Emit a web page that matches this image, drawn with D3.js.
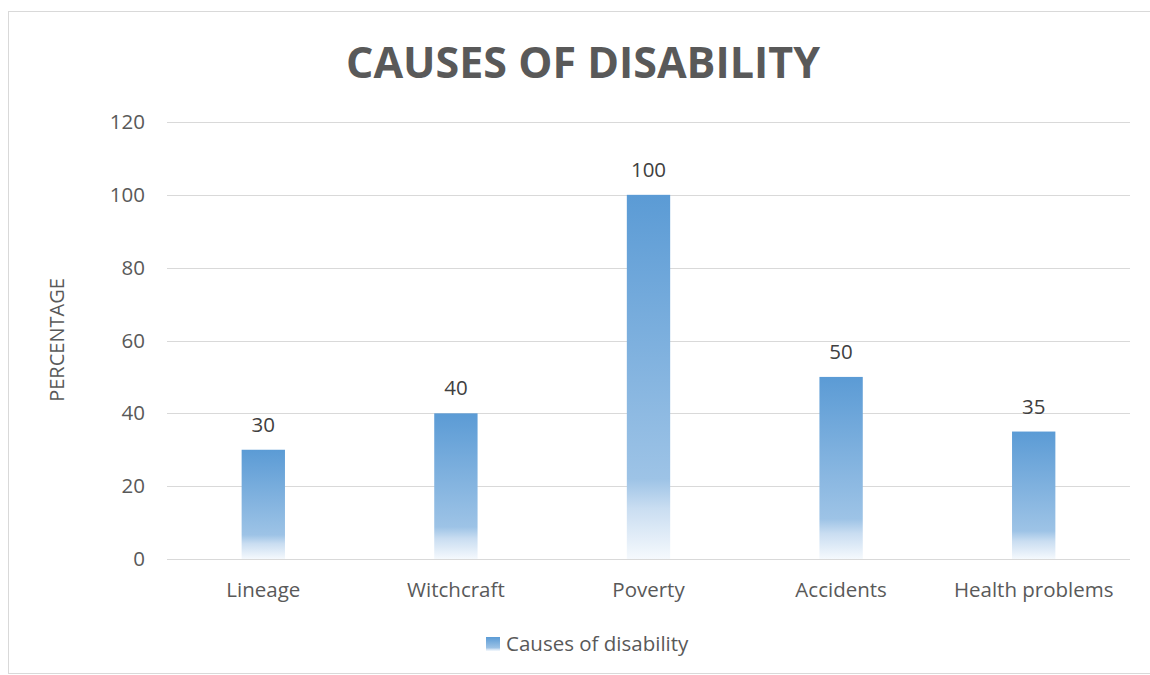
<!DOCTYPE html>
<html><head><meta charset="utf-8">
<script src="https://cdn.jsdelivr.net/npm/d3@7"></script>
<style>body{margin:0;background:#fff;} text{font-family:"Open Sans",sans-serif;}</style>
</head><body>
<svg id="c" width="1150" height="675"></svg>
<script>
const categories = ["Lineage","Witchcraft","Poverty","Accidents","Health problems"];
const values = [30,40,100,50,35];
const yTicks = [0,20,40,60,80,100,120];
const seriesName = "Causes of disability";
const title = "CAUSES OF DISABILITY";
const yTitle = "PERCENTAGE";

const svg = d3.select("#c");
// chart border
svg.append("rect").attr("x",8.5).attr("y",11.5).attr("width",1160).attr("height",662)
  .attr("fill","none").attr("stroke","#d9d9d9").attr("stroke-width",1);

const defs = svg.append("defs");
const g1 = defs.append("linearGradient").attr("id","bg").attr("x1",0).attr("y1",0).attr("x2",0).attr("y2",1);
[[0,"#5b9bd5"],[0.78,"#9dc3e6"],[0.86,"#c9ddf1"],[1,"#f5f9fd"]].forEach(s=>g1.append("stop").attr("offset",s[0]).attr("stop-color",s[1]));

const pL=167, pR=1130, pT=122, pB=559;
const x = d3.scaleBand().domain(categories).range([pL,pR]).paddingInner(0.775).paddingOuter(0.3875);
const y = d3.scaleLinear().domain([0,120]).range([pB,pT]);
const fs = "20.5px";

// gridlines
svg.append("g").selectAll("line").data(yTicks).join("line")
  .attr("x1",pL).attr("x2",pR).attr("y1",d=>Math.round(y(d))+0.5).attr("y2",d=>Math.round(y(d))+0.5)
  .attr("stroke","#d9d9d9").attr("stroke-width",1);

// y axis labels
const yAxis = d3.axisLeft(y).tickValues(yTicks).tickSize(0).tickPadding(22);
const ya = svg.append("g").attr("transform",`translate(${pL},0)`).call(yAxis);
ya.select(".domain").remove();
ya.selectAll("text").attr("fill","#595959").style("font-size",fs).style("font-family","'Open Sans',sans-serif");

// bars
svg.append("g").selectAll("rect").data(values).join("rect")
  .attr("x",(d,i)=>x(categories[i])).attr("width",x.bandwidth())
  .attr("y",d=>y(d)).attr("height",d=>y(0)-y(d)).attr("fill","url(#bg)");

// data labels
svg.append("g").selectAll("text").data(values).join("text")
  .attr("x",(d,i)=>x(categories[i])+x.bandwidth()/2).attr("y",d=>y(d)-18)
  .attr("text-anchor","middle").attr("fill","#404040").style("font-size",fs).text(d=>d);

// x axis labels
const xAxis = d3.axisBottom(x).tickSize(0).tickPadding(23);
const xa = svg.append("g").attr("transform",`translate(0,${pB})`).call(xAxis);
xa.select(".domain").remove();
xa.selectAll("text").attr("fill","#595959").style("font-size",fs).style("font-family","'Open Sans',sans-serif");

// title
svg.append("text").attr("x",583).attr("y",78).attr("text-anchor","middle")
  .attr("fill","#595959").style("font-size","43px").style("font-weight","bold").text(title);

// y title
svg.append("text").attr("transform","translate(64,340) rotate(-90)").attr("text-anchor","middle")
  .attr("fill","#595959").style("font-size","20px").text(yTitle);

// legend
const lg = svg.append("g");
lg.append("rect").attr("x",486).attr("y",637).attr("width",14).attr("height",14).attr("fill","url(#bg)");
lg.append("text").attr("x",506).attr("y",651).attr("fill","#595959").style("font-size",fs).text(seriesName);
</script>
</body></html>
